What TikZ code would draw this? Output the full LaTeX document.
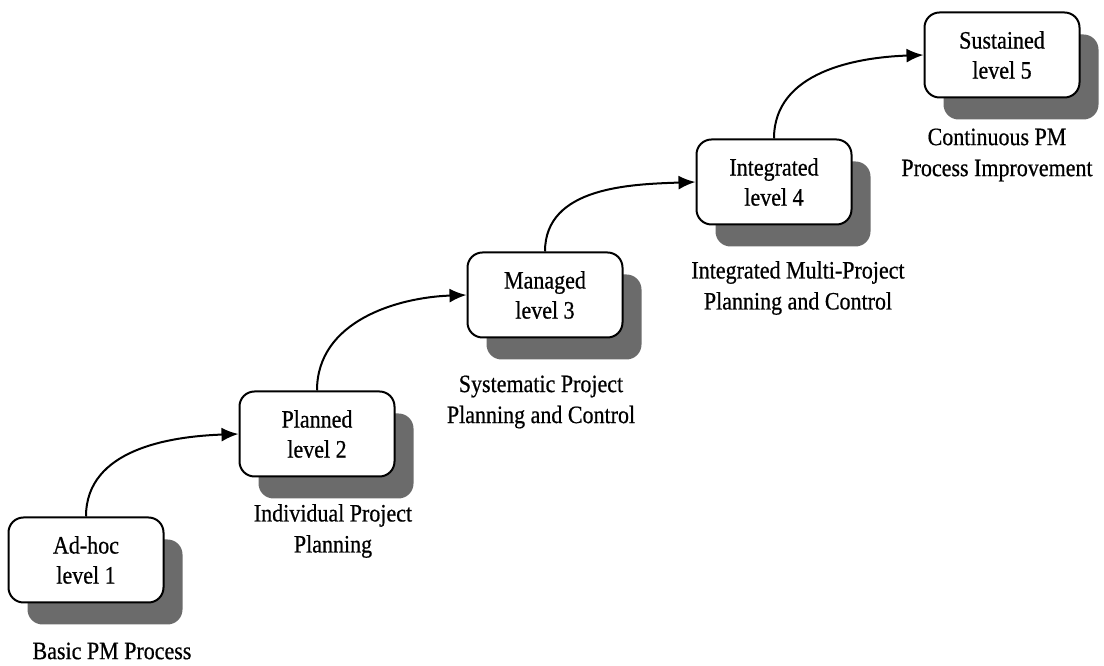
\documentclass[tikz,border=0pt]{standalone}
\usepackage{fontspec}
\setmainfont{Liberation Serif}[FakeStretch=0.88, FakeBold=0.6]
\usetikzlibrary{arrows.meta,shadows}

\begin{document}
\begin{tikzpicture}[x=1pt, y=1pt,
    stage/.style={draw, line width=2pt, fill=white, rounded corners=15pt,
        minimum width=155pt, minimum height=85pt, align=center,
        font=\fontsize{25}{30}\selectfont,
        drop shadow={shadow xshift=19pt, shadow yshift=-22pt, fill=black!58, opacity=1}},
    desc/.style={align=center, font=\fontsize{25}{31}\selectfont},
    link/.style={line width=2pt, -{Latex[length=17pt, width=14pt]}}]
            \useasboundingbox (0,0) rectangle (1104,666);

            % Define levels
            \node[stage] (L1) at (86,106) {Ad-hoc\\level 1};
            \node[stage] (L2) at (317,232) {Planned\\level 2};
            \node[stage] (L3) at (545,371) {Managed\\level 3};
            \node[stage] (L4) at (774,484) {Integrated\\level 4};
            \node[stage] (L5) at (1002,611) {Sustained\\level 5};

            % Define descriptions
            \node[desc] (D1) at (112,15) {Basic PM Process};
            \node[desc] (D2) at (333,135) {Individual Project\\Planning};
            \node[desc] (D3) at (541,264) {Systematic Project\\Planning and Control};
            \node[desc] (D4) at (798,378) {Integrated Multi-Project\\Planning and Control};
            \node[desc] (D5) at (997,511) {Continuous PM\\Process Improvement};

            % Draw steps with arrows
            \draw[link] (L1.north) to[out=90, in=182] (L2.west);
            \draw[link] (L2.north) to[out=90, in=182] (L3.west);
            \draw[link] (L3.north) to[out=90, in=182] (L4.west);
            \draw[link] (L4.north) to[out=90, in=182] (L5.west);
        \end{tikzpicture}
\end{document}
